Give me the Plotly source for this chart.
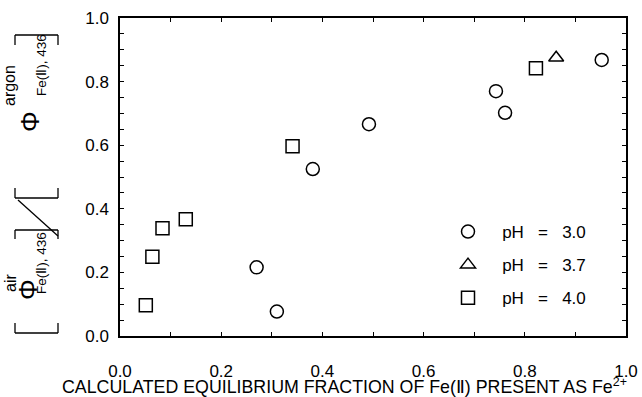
import plotly.graph_objects as go

# ---- data ----
ph30_x = [0.270, 0.310, 0.381, 0.492, 0.743, 0.761, 0.952]
ph30_y = [0.216, 0.077, 0.525, 0.666, 0.770, 0.702, 0.868]
ph37_x = [0.862]
ph37_y = [0.875]
ph40_x = [0.051, 0.064, 0.084, 0.130, 0.341, 0.822]
ph40_y = [0.097, 0.249, 0.339, 0.367, 0.597, 0.842]
NB = "\u00a0"
series_names = [NB * 3 + "pH" + NB * 3 + "=" + NB * 3 + v for v in ["3.0", "3.7", "4.0"]]
tick_vals = [0.0, 0.2, 0.4, 0.6, 0.8, 1.0]
tick_text = ["0.0", "0.2", "0.4", "0.6", "0.8", "1.0"]

FONT = "Liberation Sans, Arial, sans-serif"
L, R, T, B = 120, 16, 18, 61
W, H = 642, 397
PW, PH = W - L - R, H - T - B


def px(x):
    return (x - L) / PW


def py(y):
    return (H - B - y) / PH


fig = go.Figure()
mk = dict(color="black", size=13, line=dict(color="black", width=1.5))
fig.add_trace(go.Scatter(x=ph30_x, y=ph30_y, mode="markers", name=series_names[0],
                         legendgroup="a", marker=dict(symbol="circle-open", **mk)))
fig.add_trace(go.Scatter(x=ph37_x, y=ph37_y, mode="markers", name=series_names[1],
                         legendgroup="b", marker=dict(symbol="triangle-up-open", **mk)))
fig.add_trace(go.Scatter(x=ph40_x, y=ph40_y, mode="markers", name=series_names[2],
                         legendgroup="c", marker=dict(symbol="square-open", **mk)))

axis_common = dict(
    range=[0, 1], showgrid=False, zeroline=False, showline=True, linecolor="black",
    linewidth=1.5, mirror="allticks", ticks="inside", ticklen=4, tickwidth=1.2,
    tickcolor="black", tickvals=tick_vals, ticktext=tick_text, automargin=False,
    tickfont=dict(family=FONT, size=17, color="black"),
)
fig.update_xaxes(**axis_common, minor=dict(dtick=0.1, ticks="inside", ticklen=4, tickcolor="black", tickwidth=1.2),
                 ticklabelstandoff=19)
fig.update_yaxes(**axis_common, minor=dict(dtick=0.05, ticks="inside", ticklen=4, tickcolor="black", tickwidth=1.2),
                 ticklabelstandoff=6)

ann = []
# x-axis title
ann.append(dict(text="CALCULATED EQUILIBRIUM FRACTION OF Fe(\u2161) PRESENT AS Fe<sup>2+</sup>",
                x=px(344), y=py(386), xref="paper", yref="paper", showarrow=False,
                xanchor="center", yanchor="middle", font=dict(family=FONT, size=17.8, color="black")))


def rot(text, x, y, size):
    return dict(text=text, x=px(x), y=py(y), xref="paper", yref="paper", showarrow=False,
                textangle=-90, xanchor="center", yanchor="middle",
                font=dict(family=FONT, size=size, color="black"))


ann += [
    rot("\u03a6", 28, 290, 26),
    rot("air", 10, 283, 16),
    rot("Fe(\u2161), 436", 41, 263, 13.5),
    rot("\u03a6", 30, 122, 26),
    rot("argon", 10, 86, 16),
    rot("Fe(\u2161), 436", 41, 65, 13.5),
]
fig.update_layout(annotations=ann)

shapes = []
ln = dict(color="black", width=1.3)


def seg(x0, y0, x1, y1):
    shapes.append(dict(type="line", xref="paper", yref="paper", x0=px(x0), y0=py(y0),
                       x1=px(x1), y1=py(y1), line=ln))


# brackets (rotated)
for (yb, leg) in [(333, -10), (230, 9), (198, -10), (35, 10)]:
    seg(15, yb, 58, yb)
    seg(15, yb, 15, yb + leg)
    seg(58, yb, 58, yb + leg)
# slash
seg(18, 200, 58, 236)
fig.update_layout(shapes=shapes)

fig.update_layout(
    width=W, height=H, margin=dict(l=L, r=R, t=T, b=B, autoexpand=False),
    paper_bgcolor="white", plot_bgcolor="white",
    font=dict(family=FONT, size=17, color="black"),
    showlegend=True,
    legend=dict(x=px(448), y=py(214), xanchor="left", yanchor="top",
                bgcolor="rgba(0,0,0,0)", font=dict(family=FONT, size=17, color="black"),
                traceorder="grouped", tracegroupgap=8),
)

fig.write_html("out.html", config={"displayModeBar": False},
               post_script="document.body.style.margin='0px';")
